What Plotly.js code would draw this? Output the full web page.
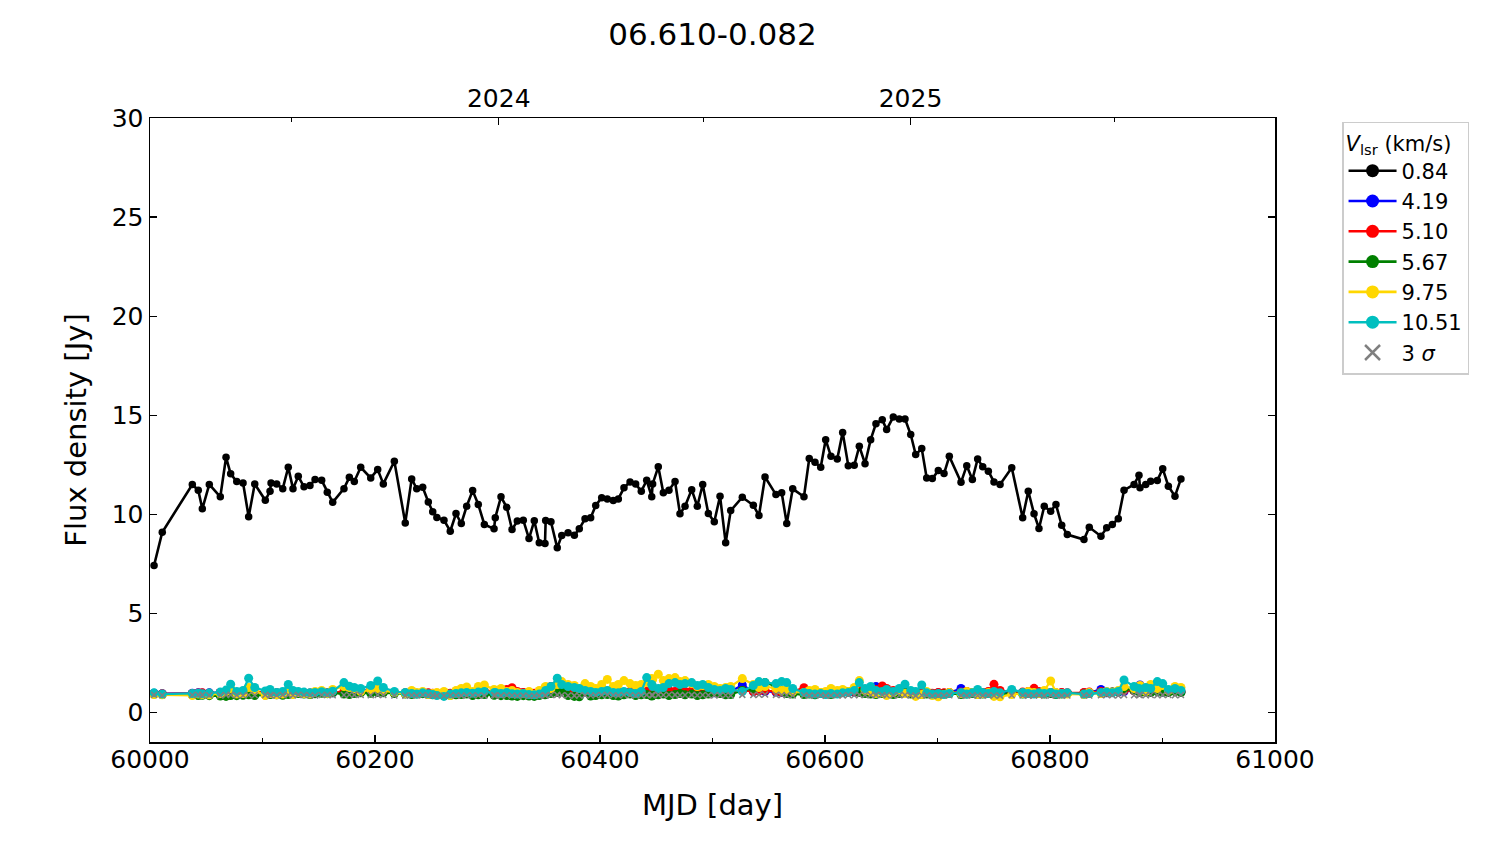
<!DOCTYPE html>
<html>
<head>
<meta charset="utf-8">
<script src="https://cdn.plot.ly/plotly-3.0.1.min.js"></script>
<style>html,body{margin:0;padding:0;background:#fff;}#chart{width:1500px;height:844px;}</style>
</head>
<body>
<div id="chart"></div>
<script>
const mjd = [
60003.6,60010.9,60037.6,60042.9,60046.5,60052.7,60062.5,60067.6,60071.7,60077.1,
60082.7,60087.7,60093.1,60102.5,60106.7,60107.6,60112.6,60118.0,60122.9,60127.1,
60131.8,60136.9,60142.2,60146.7,60152.6,60157.6,60162.4,60172.4,60177.2,60181.6,
60187.3,60196.2,60202.4,60207.4,60217.2,60226.9,60232.6,60237.1,60242.4,60247.4,
60251.3,60255.0,60261.3,60266.9,60272.0,60276.7,60281.5,60286.8,60291.8,60297.2,
60305.8,60306.9,60312.0,60317.1,60321.8,60326.5,60331.8,60336.9,60341.6,60346.0,
60351.1,60351.7,60356.4,60362.0,60366.0,60371.6,60377.2,60381.6,60386.7,60391.7,
60396.2,60401.5,60406.5,60411.8,60416.3,60421.3,60426.7,60431.7,60436.7,60441.5,
60446.0,60446.8,60451.8,60456.3,60461.3,60466.7,60471.1,60475.6,60481.5,60486.5,
60491.3,60496.3,60501.6,60506.7,60511.7,60516.2,60526.5,60536.3,60541.3,60546.7,
60556.4,60561.5,60566.0,60571.3,60581.3,60586.0,60591.1,60596.2,60600.6,60605.3,
60610.9,60615.7,60620.7,60626.0,60630.5,60635.6,60640.6,60645.3,60650.9,60654.8,
60660.7,60666.0,60671.1,60676.2,60680.6,60686.0,60690.4,60695.4,60700.7,60705.8,
60710.5,60720.9,60726.0,60731.0,60735.7,60740.2,60745.2,60750.2,60755.6,60766.0,
60775.7,60780.7,60785.8,60790.2,60794.9,60800.6,60805.3,60810.4,60815.4,60830.2,
60834.9,60845.3,60850.4,60855.4,60860.7,60865.8,60874.7,60879.1,60880.0,60885.1,
60889.5,60895.4,60900.2,60905.2,60911.1,60916.4
];

const flux_084 = [
7.41,9.09,11.50,11.21,10.27,11.50,10.88,12.87,12.04,11.65,
11.58,9.87,11.53,10.70,11.16,11.58,11.53,11.29,12.37,11.29,
11.91,11.38,11.45,11.75,11.71,11.11,10.60,11.29,11.86,11.65,
12.37,11.83,12.25,11.53,12.67,9.56,11.78,11.28,11.36,10.62,
10.12,9.83,9.70,9.14,10.03,9.53,10.40,11.19,10.49,9.48,
9.26,9.82,10.88,10.35,9.23,9.65,9.70,8.77,9.67,8.56,
8.52,9.68,9.62,8.30,8.92,9.06,8.94,9.26,9.77,9.82,
10.44,10.83,10.77,10.69,10.77,11.33,11.63,11.53,11.16,11.71,
10.88,11.53,12.39,11.08,11.21,11.65,10.02,10.40,11.24,10.40,
11.50,10.03,9.62,10.91,8.56,10.18,10.86,10.45,9.93,11.88,
10.99,11.08,9.53,11.28,10.88,12.81,12.62,12.37,13.76,12.92,
12.79,14.13,12.45,12.47,13.43,12.55,13.76,14.57,14.77,14.27,
14.91,14.81,14.81,14.02,13.01,13.31,11.83,11.80,12.20,12.05,
12.92,11.61,12.45,11.75,12.79,12.39,12.17,11.63,11.50,12.34,
9.82,11.16,10.02,9.28,10.40,10.15,10.49,9.44,8.97,8.72,
9.34,8.89,9.31,9.48,9.77,11.21,11.50,11.96,11.33,11.50,
11.66,11.70,12.30,11.41,10.91,11.78
];

const flux_419 = [
0.96,0.94,0.96,0.98,0.97,0.98,1.00,1.00,1.02,0.98,
1.00,1.05,1.02,0.98,1.00,0.98,0.97,1.00,1.02,1.00,
0.98,0.97,0.96,0.98,1.00,0.97,0.98,1.02,1.05,1.10,
1.05,1.18,1.08,1.02,0.98,0.96,0.97,0.95,0.98,0.96,
0.95,0.94,0.93,0.95,0.97,0.98,1.00,0.98,1.02,1.00,
1.00,1.02,1.05,1.02,1.05,1.00,0.98,0.96,0.95,0.98,
1.02,1.05,1.10,1.20,1.08,1.05,1.00,1.00,1.02,0.98,
1.00,1.02,1.05,1.02,1.00,0.98,1.02,1.00,0.98,1.02,
1.05,1.08,1.02,1.05,1.08,1.02,1.00,1.02,1.05,1.02,
1.00,1.02,0.98,1.00,1.02,1.05,1.38,1.05,1.08,1.05,
1.02,1.00,0.98,1.02,1.05,1.02,0.98,0.96,0.98,1.00,
0.98,1.02,1.00,1.02,1.05,1.05,1.10,1.30,1.15,1.10,
1.05,1.02,1.00,0.98,0.96,0.98,0.96,0.95,0.98,0.96,
0.98,1.20,1.02,0.98,1.00,0.98,1.02,1.05,1.00,1.02,
1.00,1.02,1.05,1.00,0.98,0.96,0.95,0.98,0.96,0.98,
1.00,1.15,0.98,1.00,1.02,1.05,1.10,1.20,1.38,1.10,
1.05,1.08,1.02,1.05,1.08,1.02
];

const flux_510 = [
0.95,0.93,0.95,0.97,0.98,0.96,1.00,1.02,1.05,1.00,
1.02,1.20,1.05,1.00,1.02,1.00,0.98,1.00,1.05,1.02,
1.00,0.98,0.97,1.00,1.02,0.98,1.00,1.05,1.10,1.08,
1.05,1.10,1.12,1.05,1.00,0.98,1.00,0.96,1.00,0.98,
0.96,0.95,0.94,0.96,0.98,1.00,1.05,1.00,1.10,1.08,
1.02,1.05,1.10,1.15,1.24,1.05,1.00,0.98,0.96,1.00,
1.05,1.10,1.30,1.15,1.10,1.05,1.00,1.02,1.05,1.00,
1.02,1.05,1.08,1.05,1.02,1.00,1.05,1.02,1.00,1.05,
1.08,1.10,1.05,1.08,1.10,1.05,1.02,1.05,1.08,1.05,
1.02,1.05,1.00,1.02,1.05,1.08,1.10,1.05,1.08,1.10,
1.05,1.02,1.00,1.05,1.24,1.05,1.00,0.98,1.00,1.02,
1.00,1.05,1.02,1.05,1.10,1.08,1.10,1.15,1.33,1.20,
1.10,1.05,1.02,1.00,0.98,1.00,0.98,0.96,1.00,0.98,
1.00,1.02,1.05,1.00,1.02,1.00,1.05,1.41,1.10,1.05,
1.02,1.05,1.21,1.05,1.02,1.00,0.98,1.00,0.98,1.00,
1.02,1.05,1.00,1.02,1.05,1.10,1.08,1.10,1.15,1.10,
1.08,1.10,1.05,1.08,1.10,1.05
];

const flux_567 = [
0.92,0.90,0.88,0.85,0.86,0.84,0.82,0.80,0.85,0.84,
0.86,0.88,0.85,0.87,0.90,0.92,0.88,0.86,0.90,0.92,
0.95,0.92,0.90,0.93,0.96,0.94,0.98,0.92,0.90,0.95,
0.98,0.96,1.00,0.98,0.95,0.92,0.90,0.92,0.94,0.90,
0.88,0.90,0.92,0.86,0.88,0.90,0.92,0.85,0.88,0.90,
0.86,0.88,0.84,0.85,0.82,0.80,0.84,0.82,0.80,0.85,
0.88,0.90,0.95,1.00,1.10,0.85,0.80,0.78,1.30,0.82,
0.85,0.88,0.90,0.85,0.82,0.88,0.92,0.85,0.88,0.90,
0.82,0.85,0.88,0.92,0.85,0.90,0.95,0.88,0.92,0.85,
0.88,0.92,1.00,0.95,0.88,0.90,1.10,1.20,1.45,1.50,
1.30,1.10,0.95,0.92,0.90,0.92,0.88,0.95,0.92,0.90,
0.95,1.00,1.05,1.10,1.00,0.95,0.92,0.90,0.95,0.92,
0.90,0.95,1.00,0.92,0.88,0.90,0.92,0.88,0.90,0.92,
0.95,0.90,0.92,0.95,0.90,0.92,0.95,0.90,0.92,0.95,
0.92,0.95,0.98,0.95,0.92,0.95,0.90,0.92,0.95,0.92,
0.95,0.98,1.00,1.02,1.05,1.20,1.10,1.05,1.00,1.02,
1.00,1.05,1.02,1.00,1.05,1.00
];

const flux_975 = [
0.90,0.88,0.85,0.92,0.90,0.88,0.95,1.05,1.20,0.92,
0.95,1.25,1.10,0.85,1.00,0.95,0.88,0.92,1.10,0.90,
1.00,0.95,0.92,1.05,1.10,0.95,1.15,1.30,1.25,1.20,
1.05,1.15,1.20,1.10,1.00,0.95,1.10,1.00,1.05,0.90,
0.95,1.00,1.05,0.85,1.10,1.20,1.28,1.05,1.30,1.38,
1.15,1.00,1.20,1.05,1.10,1.00,0.95,1.05,0.90,1.10,
1.25,1.30,1.20,1.40,1.55,1.40,1.35,1.20,1.45,1.30,
1.20,1.40,1.66,1.30,1.40,1.60,1.45,1.35,1.40,1.50,
1.70,1.65,1.92,1.60,1.70,1.75,1.55,1.60,1.45,1.30,
1.35,1.40,1.30,1.20,1.25,1.30,1.70,1.40,1.25,1.30,
1.20,1.10,1.15,1.05,1.00,1.10,1.15,1.00,1.05,1.20,
1.10,1.15,1.05,1.25,1.60,1.10,1.05,0.95,1.00,0.85,
1.00,1.10,0.95,1.05,0.80,0.90,1.05,0.85,0.78,0.90,
1.00,0.95,1.05,1.00,0.90,0.95,1.00,0.80,0.78,0.90,
0.95,1.05,1.00,0.95,1.10,1.58,1.00,0.95,0.92,0.90,
1.00,0.95,1.05,1.00,1.10,1.30,1.20,1.15,1.35,1.05,
1.40,1.20,1.35,1.10,1.30,1.25
];

const flux_1051 = [
0.98,0.92,0.95,0.96,0.94,0.97,1.02,1.12,1.42,1.05,
1.10,1.72,1.25,1.08,1.15,1.02,1.00,1.05,1.40,1.10,
1.05,1.02,0.98,1.00,1.04,0.98,1.06,1.50,1.32,1.25,
1.20,1.35,1.58,1.25,1.05,1.00,0.95,0.92,0.98,0.94,
0.90,0.85,0.80,0.92,0.95,0.98,1.00,0.96,1.02,1.05,
0.98,1.00,0.95,1.00,0.94,0.92,0.95,0.90,0.88,0.92,
1.00,1.10,1.30,1.72,1.40,1.30,1.25,1.20,1.10,1.05,
1.00,1.05,1.10,1.00,0.98,1.05,1.00,0.95,1.05,1.75,
1.40,1.30,1.20,1.25,1.45,1.50,1.40,1.45,1.50,1.35,
1.40,1.25,1.15,1.10,1.20,1.15,1.05,1.35,1.55,1.50,
1.45,1.55,1.50,1.20,1.00,0.95,0.92,0.95,0.90,0.95,
0.92,0.98,1.00,1.10,1.50,1.20,1.30,1.10,1.05,1.15,
1.05,1.20,1.42,1.10,1.05,1.38,0.98,0.92,0.95,0.90,
0.95,1.00,0.92,0.98,1.15,1.00,0.95,1.05,0.98,1.15,
1.00,0.95,0.92,0.98,0.95,1.00,0.92,0.95,0.98,0.92,
0.95,1.00,1.02,0.98,1.05,1.63,1.30,1.20,1.10,1.25,
1.20,1.55,1.45,1.15,1.20,1.10
];

const sigma3 = [
0.88,0.86,0.87,0.89,0.88,0.86,0.85,0.87,0.88,0.86,
0.85,0.87,0.86,0.88,0.87,0.85,0.86,0.88,0.87,0.86,
0.88,0.87,0.86,0.85,0.87,0.88,0.86,0.87,0.89,0.88,
0.87,0.86,0.88,0.87,0.85,0.84,0.86,0.85,0.87,0.86,
0.85,0.84,0.83,0.85,0.86,0.84,0.85,0.86,0.85,0.84,
0.86,0.85,0.84,0.86,0.85,0.83,0.84,0.82,0.83,0.84,
0.85,0.86,0.87,0.88,0.86,0.85,0.84,0.85,0.86,0.85,
0.86,0.87,0.88,0.86,0.85,0.87,0.86,0.85,0.86,0.88,
0.87,0.86,0.88,0.87,0.89,0.88,0.86,0.87,0.88,0.86,
0.87,0.86,0.85,0.87,0.86,0.85,0.88,0.87,0.89,0.90,
0.88,0.87,0.86,0.85,0.86,0.84,0.85,0.86,0.84,0.85,
0.86,0.85,0.87,0.86,0.88,0.87,0.86,0.88,0.87,0.86,
0.85,0.86,0.87,0.85,0.84,0.86,0.85,0.83,0.84,0.85,
0.86,0.84,0.85,0.86,0.85,0.84,0.86,0.85,0.84,0.86,
0.85,0.84,0.85,0.86,0.84,0.85,0.86,0.84,0.85,0.86,
0.85,0.86,0.87,0.86,0.85,0.87,0.86,0.88,0.87,0.86,
0.87,0.86,0.88,0.87,0.86,0.87
];

const seriesNames = ['0.84','4.19','5.10','5.67','9.75','10.51'];
const seriesColors = ['#000000','#0000ff','#ff0000','#008000','#ffd700','#00bfbf'];
const seriesValues = [flux_084, flux_419, flux_510, flux_567, flux_975, flux_1051];

const yearTickVals = [60310, 60676];
const yearTickText = ['2024', '2025'];
const halfYearTickVals = [60126, 60492, 60857];

const traces = [];
// data traces (legend shown through proxy entries below)
seriesValues.forEach((vals, i) => {
  traces.push({
    x: mjd, y: vals, type: 'scatter', mode: 'lines+markers', name: seriesNames[i],
    showlegend: false,
    line: {color: seriesColors[i], width: i === 0 ? 2.6 : 2.2},
    marker: {color: seriesColors[i], size: i === 0 ? 7.5 : 9}
  });
});
traces.push({
  x: mjd, y: sigma3, type: 'scatter', mode: 'markers', name: '3 <i>σ</i>',
  showlegend: false,
  marker: {symbol: 'x-thin', color: '#808080', size: 6, line: {color: '#808080', width: 1.5}}
});
// legend proxies (no data)
seriesNames.forEach((nm, i) => {
  traces.push({
    x: [null], y: [null], type: 'scatter', mode: 'lines+markers', name: nm,
    line: {color: seriesColors[i], width: 2.6},
    marker: {color: seriesColors[i], size: 13}
  });
});
traces.push({
  x: [null], y: [null], type: 'scatter', mode: 'markers', name: '3 <i>σ</i>',
  marker: {symbol: 'x-thin', color: '#808080', size: 15, line: {color: '#808080', width: 2.5}}
});
// empty trace to make the top (calendar year) axis render
traces.push({x: [], y: [], type: 'scatter', mode: 'markers', xaxis: 'x2', yaxis: 'y', showlegend: false, hoverinfo: 'skip'});

const tickFont = {family: 'DejaVu Sans', size: 25, color: '#000'};
const layout = {
  width: 1500, height: 844,
  margin: {l: 150, r: 225, t: 118, b: 102},
  paper_bgcolor: '#fff', plot_bgcolor: '#fff',
  font: {family: 'DejaVu Sans', color: '#000'},
  title: {text: '06.610-0.082', font: {family: 'DejaVu Sans', size: 31, color: '#000'},
          x: 0.475, xanchor: 'center', y: 0.96, yanchor: 'middle'},
  showlegend: true,
  xaxis: {
    range: [60000, 61000], dtick: 200, tick0: 60000, tickformat: 'd',
    ticks: 'inside', ticklen: 7, tickwidth: 1.2, tickcolor: '#000',
    minor: {dtick: 100, tick0: 60000, ticks: 'inside', ticklen: 4, tickwidth: 1, tickcolor: '#000'},
    showline: true, linecolor: '#000', linewidth: 1.5, mirror: false,
    showgrid: false, zeroline: false, tickfont: tickFont, ticklabelstandoff: -6,
    title: {text: 'MJD [day]', font: {family: 'DejaVu Sans', size: 29, color: '#000'}, standoff: 22}
  },
  xaxis2: {
    overlaying: 'x', side: 'top', range: [60000, 61000], anchor: 'y',
    tickmode: 'array', tickvals: yearTickVals, ticktext: yearTickText,
    ticks: 'inside', ticklen: 7, tickwidth: 1.2, tickcolor: '#000',
    minor: {tickmode: 'array', tickvals: halfYearTickVals, ticks: 'inside', ticklen: 4, tickwidth: 1, tickcolor: '#000'},
    showline: true, linecolor: '#000', linewidth: 1.5,
    showgrid: false, zeroline: false, tickfont: tickFont
  },
  yaxis: {
    range: [-1.5, 30], dtick: 5, tick0: 0,
    ticks: 'inside', ticklen: 7, tickwidth: 1.2, tickcolor: '#000',
    showline: true, linecolor: '#000', linewidth: 1.5, mirror: 'ticks',
    showgrid: false, zeroline: false, tickfont: tickFont,
    title: {text: 'Flux density [Jy]', font: {family: 'DejaVu Sans', size: 29, color: '#000'}, standoff: 16}
  },
  legend: {
    x: 1.0596, xanchor: 'left', y: 0.994, yanchor: 'top',
    bgcolor: '#fff', bordercolor: '#cccccc', borderwidth: 1.5,
    font: {family: 'DejaVu Sans', size: 21, color: '#000'},
    title: {text: '<i>V</i><sub>lsr</sub> (km/s)', font: {family: 'DejaVu Sans', size: 21, color: '#000'}},
    itemwidth: 48, tracegroupgap: 0
  }
};

Plotly.newPlot('chart', traces, layout, {displayModeBar: false, staticPlot: true});
</script>
</body>
</html>
